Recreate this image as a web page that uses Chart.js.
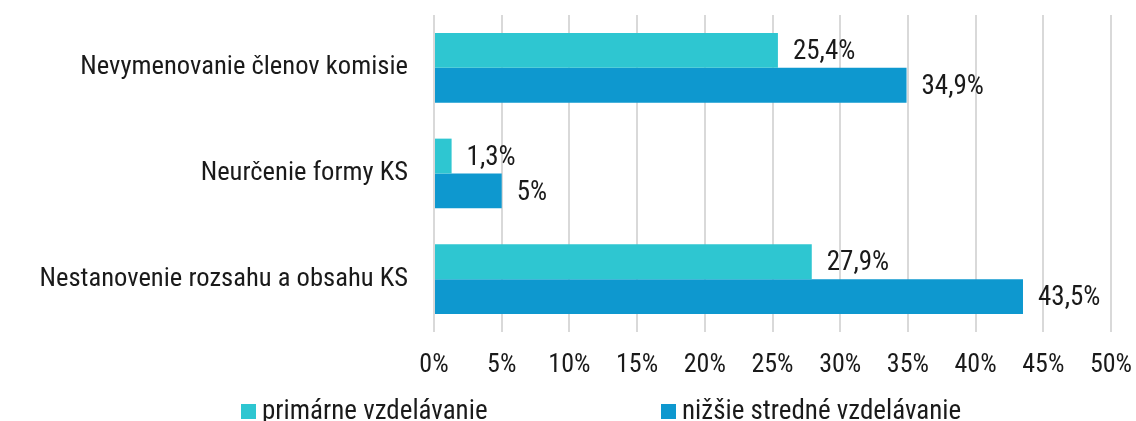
<!DOCTYPE html>
<html>
<head>
<meta charset="utf-8">
<script src="https://cdn.jsdelivr.net/npm/chart.js@4"></script>
<style>
    html, body { margin: 0; padding: 0; background: #fff; overflow: hidden; }
    #wrap { width: 1136px; height: 440px; }
</style>
</head>
<body>
<div id="wrap"><canvas id="chart"></canvas></div>
<script>
// categories and series
const categories = [
    "Nevymenovanie členov komisie",
    "Neurčenie formy KS",
    "Nestanovenie rozsahu a obsahu KS",
];
const seriesNames = ["primárne vzdelávanie", "nižšie stredné vzdelávanie"];
const primarne = [25.4, 1.3, 27.9];
const nizsieStredne = [34.9, 5, 43.5];
const seriesColors = ["#2ec6d1", "#0e98cf"];

const FONT = "'Roboto Condensed', 'Liberation Sans Narrow', 'DejaVu Sans Condensed', Roboto, sans-serif";
const TEXT = "#1a1a1a";

function fmt(v) {
    return String(v).replace(".", ",") + "%";
}

// value labels to the right of each bar
const valueLabels = {
    id: "valueLabels",
    afterDatasetsDraw(chart) {
        const ctx = chart.ctx;
        ctx.save();
        ctx.font = "27px " + FONT;
        ctx.fillStyle = TEXT;
        ctx.textAlign = "left";
        ctx.textBaseline = "middle";
        chart.data.datasets.forEach((ds, i) => {
            chart.getDatasetMeta(i).data.forEach((bar, j) => {
                ctx.fillText(fmt(ds.data[j]), bar.x + 15, bar.y + 2);
            });
        });
        ctx.restore();
    },
};

// simple legend along the bottom edge
const bottomLegend = {
    id: "bottomLegend",
    afterDraw(chart, args, opts) {
        const ctx = chart.ctx;
        ctx.save();
        ctx.font = "27px " + FONT;
        ctx.textBaseline = "middle";
        chart.data.datasets.forEach((ds, i) => {
            const x = opts.xs[i];
            ctx.fillStyle = ds.backgroundColor;
            ctx.fillRect(x, opts.y - 7, 15, 15);
            ctx.fillStyle = TEXT;
            ctx.fillText(ds.label, x + 21, opts.y + 1);
        });
        ctx.restore();
    },
};

// fixed axis sizes; drop the auto padding Chart.js adds for tick labels
function noAxisPadding(axis) {
    axis.paddingTop = 0;
    axis.paddingBottom = 0;
    axis.paddingLeft = 0;
    axis.paddingRight = 0;
}

new Chart(document.getElementById("chart"), {
    type: "bar",
    data: {
        labels: categories,
        datasets: [
            { label: seriesNames[0], data: primarne, backgroundColor: seriesColors[0] },
            { label: seriesNames[1], data: nizsieStredne, backgroundColor: seriesColors[1] },
        ],
    },
    options: {
        indexAxis: "y",
        responsive: true,
        maintainAspectRatio: false,
        animation: false,
        categoryPercentage: 0.66,
        barPercentage: 1,
        layout: { padding: { top: 15, right: 25, bottom: 58, left: 0 } },
        scales: {
            x: {
                min: 0,
                max: 50,
                ticks: {
                    stepSize: 5,
                    padding: 18,
                    color: TEXT,
                    font: { family: FONT, size: 26 },
                    callback: (v) => v + "%",
                },
                grid: { color: "#d9d9d9", lineWidth: 2, drawTicks: false },
                border: { display: false },
                afterFit(axis) {
                    axis.height = 50;
                    noAxisPadding(axis);
                },
            },
            y: {
                ticks: {
                    padding: 26,
                    color: TEXT,
                    font: { family: FONT, size: 26.6 },
                },
                grid: { display: false, drawTicks: false },
                border: { display: false },
                afterFit(axis) {
                    axis.width = 434;
                    noAxisPadding(axis);
                },
            },
        },
        plugins: {
            legend: { display: false },
            tooltip: { enabled: false },
            bottomLegend: { xs: [241, 661], y: 411 },
        },
    },
    plugins: [valueLabels, bottomLegend],
});
</script>
</body>
</html>
